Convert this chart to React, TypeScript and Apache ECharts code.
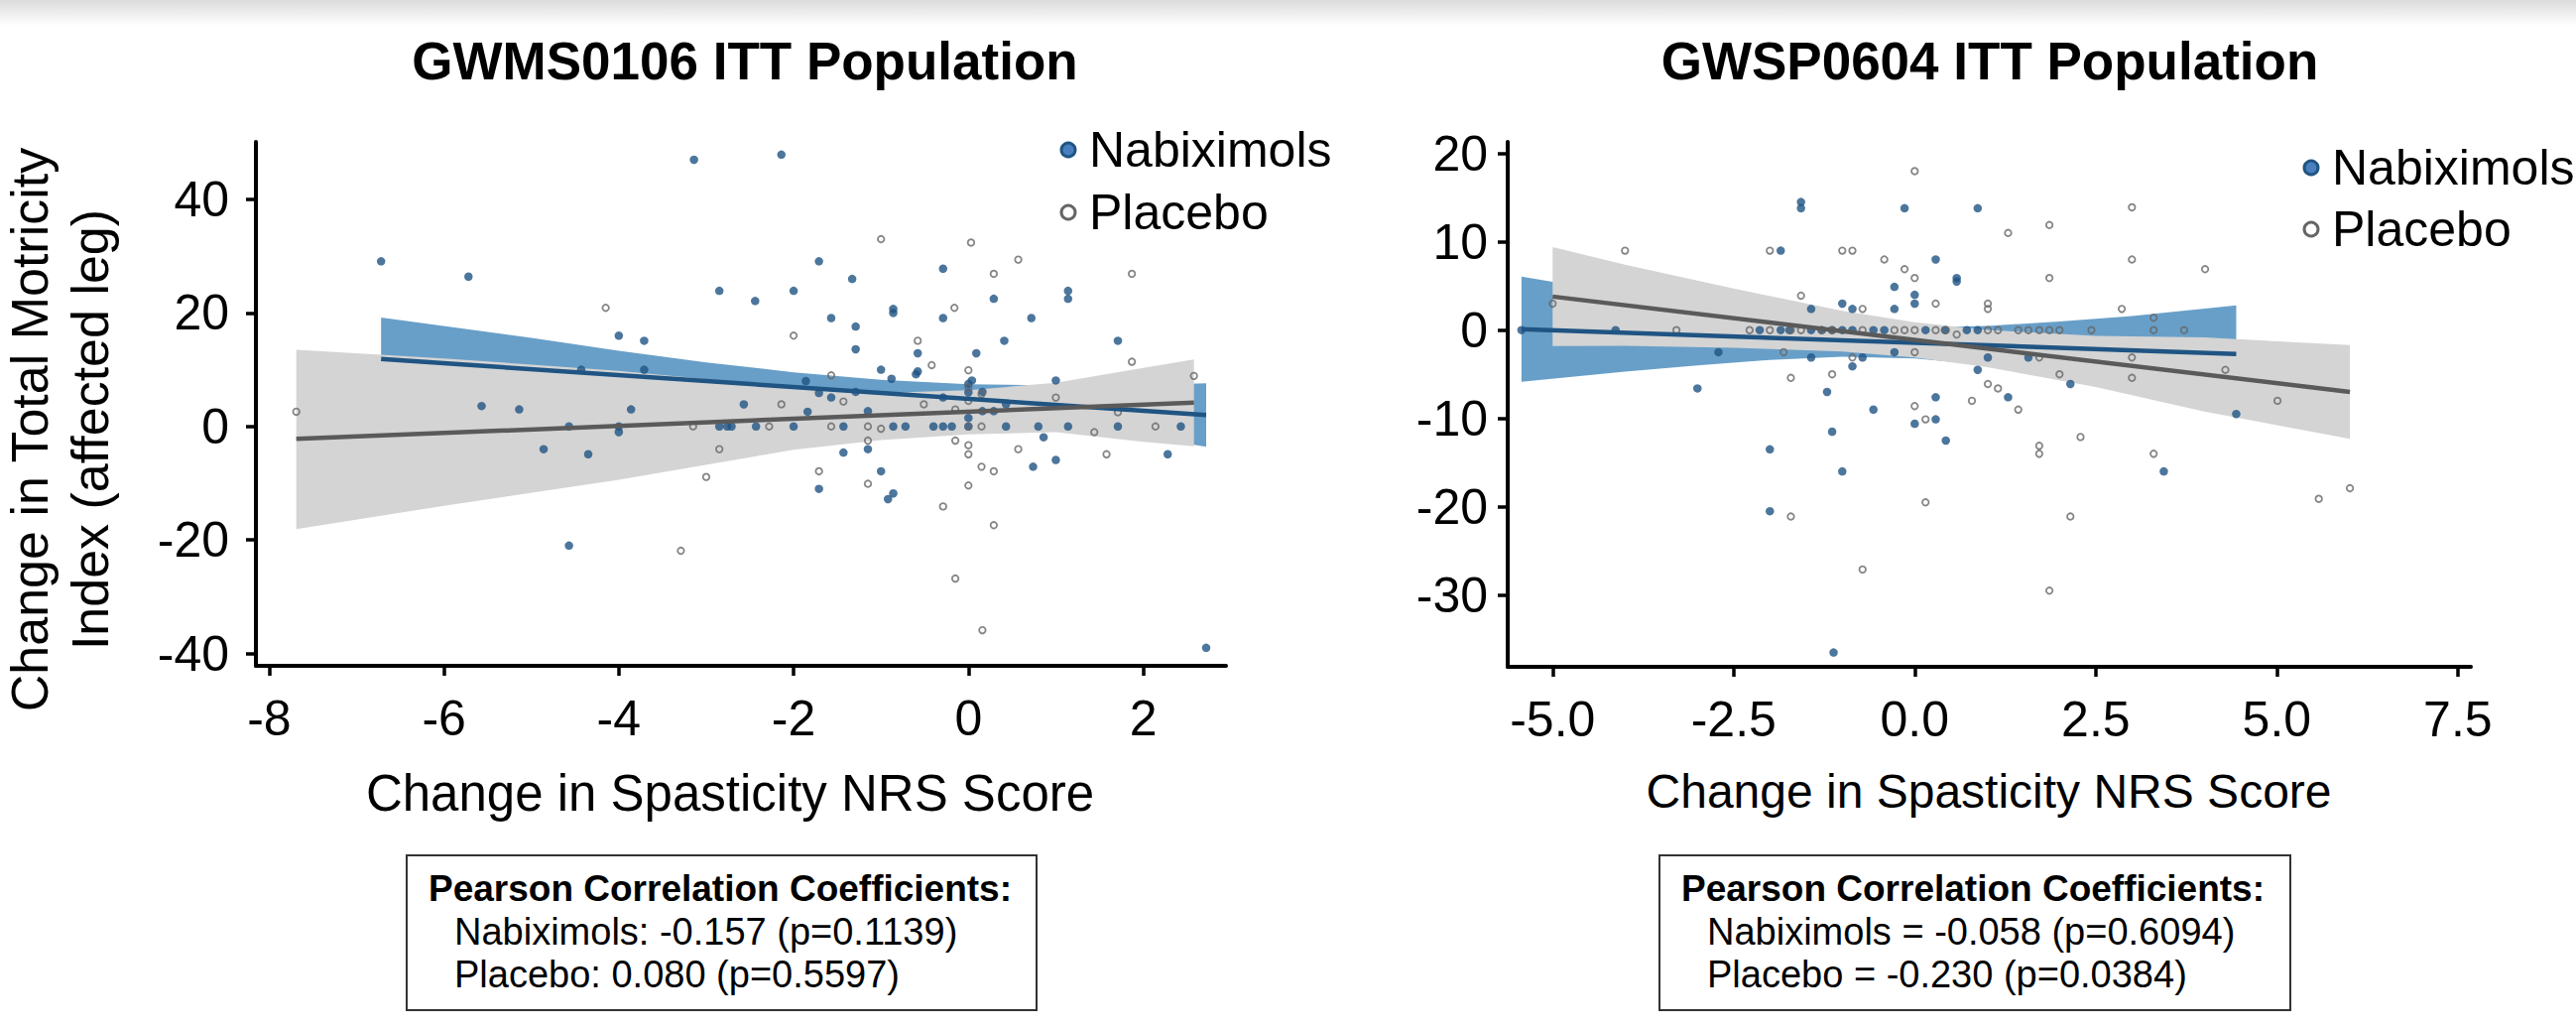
import React, { useEffect, useRef } from 'react';
import * as echarts from 'echarts';

const FONT = '"Liberation Sans", Arial, Helvetica, sans-serif';

// ---------- Left panel: GWMS0106 ----------
const leftNabiximols: number[][] = [
  [-3.14, 47.0], [-2.14, 47.9], [-6.72, 29.1], [-5.72, 26.4], [-1.71, 29.1], [-0.29, 27.8], [-1.33, 26.0],
  [-2.85, 23.9], [-2.0, 23.9], [-2.44, 22.1], [-0.86, 20.7], [-0.86, 20.0], [-1.57, 19.1], [-0.29, 19.1],
  [-1.29, 17.6], [-4.0, 16.0], [-3.71, 15.1], [-1.29, 13.6], [-0.58, 12.9], [0.09, 12.9], [-4.43, 10.0],
  [-3.71, 10.0], [-1.0, 10.0], [-0.58, 9.7], [-0.6, 9.2], [-0.88, 8.4], [-1.86, 8.0], [0.0, 7.5], [0.04, 8.1],
  [0.0, 6.0], [0.16, 6.1], [-1.71, 5.9], [-1.57, 5.1], [-1.29, 6.1], [-0.29, 5.1], [-5.57, 3.6], [-5.14, 3.0],
  [-3.86, 3.0], [-2.57, 3.9], [-1.84, 2.6], [-1.15, 2.7], [0.0, 1.5], [0.16, 2.7], [0.29, 2.7], [0.43, 3.9],
  [1.0, 8.1], [1.14, 23.9], [1.14, 22.5], [0.29, 22.5], [0.72, 19.1], [0.41, 15.1], [1.71, 15.1],
  [-4.57, 0], [-4.0, 0], [-2.85, 0], [-2.76, 0], [-2.71, 0], [-2.43, 0], [-2.0, 0], [-1.43, 0], [-0.86, 0],
  [-0.72, 0], [-0.4, 0], [-0.29, 0], [-0.19, 0], [0, 0], [0.43, 0], [0.8, 0], [1.14, 0], [1.71, 0], [2.43, 0],
  [-4.0, -1.0], [-4.86, -4.0], [-4.35, -4.9], [-1.43, -4.6], [-1.15, -4.0], [-1.0, -7.9], [-1.71, -11.0],
  [-0.86, -11.8], [-0.92, -12.8], [0.86, -1.9], [0.74, -7.1], [1.0, -5.9], [2.28, -4.9], [-4.57, -21.0],
  [2.72, -39.0],
];
const leftPlacebo: number[][] = [
  [-7.69, 2.6], [-4.15, 20.9], [-2.0, 16.0], [-1.0, 33.0], [0.03, 32.4], [0.57, 29.4], [0.29, 26.9],
  [1.87, 26.9], [-0.16, 20.9], [-0.58, 15.1], [-0.42, 10.8], [0.0, 9.9], [1.87, 11.4], [-1.57, 9.0],
  [2.58, 8.9], [-2.14, 3.9], [-1.43, 4.4], [-0.51, 3.9], [-0.15, 3.0], [0.15, 5.7], [1.0, 5.1], [1.71, 2.5],
  [0.0, 6.9], [0.0, 4.5],
  [-3.15, 0], [-2.28, 0], [-1.57, 0], [-1.15, 0], [-1.0, -0.4], [0, 0], [0.15, 0], [2.14, 0],
  [1.44, -1.0], [-1.15, -2.5], [-0.15, -2.5], [0, -3.3], [0, -4.9], [-2.85, -4.0], [0.57, -4.0], [1.58, -4.9],
  [-1.71, -7.9], [0.15, -7.1], [0.29, -7.9], [-3.0, -8.9], [-1.15, -10.1], [0, -10.4], [-0.29, -14.1],
  [0.29, -17.4], [-3.29, -21.9], [-0.15, -26.8], [0.16, -35.9],
];
const leftNabFit: number[][] = [[-6.72, 11.9], [2.72, 2.0]];
const leftPlaFit: number[][] = [[-7.69, -2.2], [2.58, 4.2]];
// [x, lower, upper]
const leftNabBand: number[][] = [
  [-6.72, 4.6, 19.2], [-5, 4.6, 15.6], [-4, 4.75, 13.35], [-3, 4.7, 11.3], [-2, 4.35, 9.55],
  [-1, 3.6, 8.2], [0, 2.25, 7.45], [1, 0.4, 7.2], [2, -1.75, 7.25], [2.72, -3.6, 7.6],
];
const leftPlaBand: number[][] = [
  [-7.69, -18.1, 13.5], [-6, -14.0, 12.0], [-4, -9.4, 9.8], [-2, -4.1, 6.9], [-1, -2.4, 5.9],
  [0, -1.4, 6.4], [1, -1.0, 7.7], [2, -2.7, 10.3], [2.58, -3.5, 11.8],
];
const leftXTicks = [-8, -6, -4, -2, 0, 2];
const leftYTicks = [-40, -20, 0, 20, 40];

// ---------- Right panel: GWSP0604 ----------
const rightNabiximols: number[][] = [
  [-5.43, 0], [-4.13, 0], [-2.71, -2.5], [-3.0, -6.6], [-1.85, 9.0], [-1.57, 14.5], [-1.57, 13.8],
  [-0.14, 13.8], [0.87, 13.8], [0.29, 8.0], [0.58, 5.9], [0.58, 5.5], [-0.28, 4.9], [0, 4.0], [0, 3.0],
  [-0.28, 2.4], [-1.43, 2.4], [-1.0, 3.0], [-0.86, 2.4],
  [-2.14, 0], [-1.85, 0], [-1.73, 0], [-1.43, 0], [-1.28, 0], [-1.14, 0], [-1.0, 0], [-0.86, 0], [-0.57, 0],
  [-0.42, 0], [0.15, 0], [0.42, 0], [0.72, 0], [0.87, 0],
  [-1.43, -3.1], [-0.72, -3.1], [-0.28, -2.5], [-0.86, -4.1], [1.01, -3.1], [1.57, -3.1], [0.87, -4.5],
  [-1.21, -7.0], [0.29, -7.6], [1.29, -7.6], [2.15, -6.1], [-0.57, -9.0], [0, -10.6], [0.29, -10.1],
  [-1.14, -11.5], [0.43, -12.5], [-2.0, -13.5], [-1.0, -16.0], [-2.0, -20.5], [-1.12, -36.5], [3.44, -16.0],
  [4.44, -9.5],
];
const rightPlacebo: number[][] = [
  [-5.0, 3.0], [-4.0, 9.0], [-2.0, 9.0], [-1.0, 9.0], [-0.86, 9.0], [-1.57, 3.9], [-0.72, 2.4], [-0.42, 8.0],
  [-0.14, 6.9], [0, 5.9], [0, 18.0], [0.29, 3.0], [1.01, 3.0], [1.01, 2.4], [1.29, 11.0], [1.86, 11.9],
  [1.86, 5.9], [3.0, 13.9], [3.0, 8.0], [4.01, 6.9], [2.86, 2.4], [3.3, 1.4],
  [-3.29, 0], [-2.28, 0], [-2.0, 0], [-1.71, 0], [-1.57, 0], [-1.29, 0], [-1.14, 0], [-0.72, 0], [-0.28, 0],
  [-0.14, 0], [0, 0], [0.29, 0], [0.43, 0], [1.01, 0], [1.15, 0], [1.43, 0], [1.57, 0], [1.72, 0], [1.86, 0],
  [2.0, 0], [2.44, 0], [3.3, 0], [3.72, 0],
  [-1.81, -2.5], [-0.86, -3.1], [0, -2.5], [0.58, -0.5], [1.72, -3.1], [-1.14, -5.0], [-1.71, -5.4],
  [2.0, -5.0], [1.01, -6.1], [1.15, -6.6], [0.79, -8.0], [1.43, -9.0], [0, -8.6], [0.15, -10.1],
  [2.29, -12.1], [1.72, -13.1], [1.72, -14.0], [0.15, -19.5], [-1.71, -21.1], [2.15, -21.1], [-0.72, -27.1],
  [1.86, -29.5], [3.0, -3.1], [3.0, -5.4], [4.29, -4.5], [5.01, -8.0], [3.3, -14.0], [5.58, -19.1],
  [6.01, -17.9],
];
const rightNabFit: number[][] = [[-5.43, 0.1], [4.44, -2.7]];
const rightPlaFit: number[][] = [[-5.0, 3.8], [6.01, -7.0]];
const rightNabBand: number[][] = [
  [-5.43, -5.85, 6.05], [-4, -4.71, 4.09], [-3, -3.99, 2.81], [-2, -3.38, 1.62], [-1, -3.01, 0.69],
  [0, -3.2, 0.3], [1, -3.93, 0.47], [2, -5.02, 0.98], [3, -6.21, 1.59], [4.44, -8.2, 2.8],
];
const rightPlaBand: number[][] = [
  [-5.0, -1.8, 9.4], [-4, -1.78, 7.42], [-2.5, -2.0, 4.7], [-1, -2.42, 2.18], [0, -3.1, 0.9],
  [1, -4.18, 0.02], [2.5, -6.45, -0.65], [4, -9.23, -0.83], [6.01, -12.3, -1.7],
];
const rightXTicks = [-5, -2.5, 0, 2.5, 5, 7.5];
const rightYTicks = [-30, -20, -10, 0, 10, 20];

const NAB_DOT = '#1f5483';
const NAB_BAND = '#689fc8';
const PLA_BAND = '#d4d4d4';
const PLA_LINE = '#5a5a5a';
const PLA_DOT = '#666666';

function bandSeries(band: number[][], color: string, idx: number) {
  return {
    type: 'custom',
    xAxisIndex: idx,
    yAxisIndex: idx,
    data: band,
    silent: true,
    renderItem: (params: any, api: any) => {
      if (params.dataIndex !== 0) return { type: 'group', children: [] };
      const up = band.map((b) => api.coord([b[0], b[2]]));
      const lo = band.slice().reverse().map((b) => api.coord([b[0], b[1]]));
      return { type: 'polygon', shape: { points: up.concat(lo) }, style: { fill: color } };
    },
  };
}

function scatterNab(data: number[][], idx: number) {
  return {
    type: 'scatter', xAxisIndex: idx, yAxisIndex: idx, data, symbol: 'circle', symbolSize: 8.5,
    itemStyle: { color: NAB_DOT }, silent: true,
  };
}
function scatterPla(data: number[][], idx: number) {
  return {
    type: 'scatter', xAxisIndex: idx, yAxisIndex: idx, data, symbol: 'circle', symbolSize: 6.5,
    itemStyle: { color: 'rgba(0,0,0,0)', borderColor: PLA_DOT, borderWidth: 1.8 }, silent: true,
  };
}
function fitLine(data: number[][], color: string, idx: number) {
  return {
    type: 'line', xAxisIndex: idx, yAxisIndex: idx, data, symbol: 'none', silent: true,
    lineStyle: { color, width: 4.5 },
  };
}

function axis(extra: any, ticks: number[], margin: number, fmt?: (v: number) => string) {
  return {
    type: 'value',
    ...extra,
    axisLine: { show: true, onZero: false, lineStyle: { color: '#000', width: 4 } },
    axisTick: { show: true, length: 10, customValues: ticks, lineStyle: { color: '#000', width: 3.5 } },
    splitLine: { show: false },
    axisLabel: {
      customValues: ticks, color: '#000', fontSize: 50, fontFamily: FONT, margin,
      formatter: fmt || ((v: number) => String(v)),
    },
  };
}

function txt(text: string, x: number, y: number, font: string, align = 'left', extra: any = {}) {
  return {
    type: 'text', x, y, ...extra, silent: true,
    style: { text, font, fill: '#000', textAlign: align, textVerticalAlign: 'middle' },
  };
}

function legend(x: number, y1: number, y2: number) {
  return [
    { type: 'circle', shape: { cx: x, cy: y1, r: 7 }, style: { fill: '#4a7fbf', stroke: NAB_DOT, lineWidth: 3 } },
    { type: 'circle', shape: { cx: x, cy: y2, r: 7 }, style: { fill: '#fff', stroke: PLA_DOT, lineWidth: 3 } },
    txt('Nabiximols', x + 21, y1, `50px ${FONT}`),
    txt('Placebo', x + 21, y2, `50px ${FONT}`),
  ];
}

function box(x: number, w: number, head: string, l1: string, l2: string) {
  return [
    { type: 'rect', shape: { x, y: 862, width: w, height: 156 }, style: { fill: '#fff', stroke: '#333', lineWidth: 2 } },
    txt(head, x + 22, 895, `bold 37px ${FONT}`),
    txt(l1, x + 48, 939, `38px ${FONT}`),
    txt(l2, x + 48, 982, `38px ${FONT}`),
  ];
}

export default function App() {
  const ref = useRef<HTMLDivElement>(null);
  useEffect(() => {
    const chart = echarts.init(ref.current as HTMLDivElement, null, { renderer: 'svg' });
    const option: any = {
      animation: false,
      backgroundColor: '#fff',
      textStyle: { fontFamily: FONT },
      grid: [
        { left: 258, top: 143, width: 978, height: 528 },
        { left: 1520, top: 143, width: 971, height: 529 },
      ],
      xAxis: [
        axis({ gridIndex: 0, min: -8.152, max: 2.947 }, leftXTicks, 28),
        axis({ gridIndex: 1, min: -5.62, max: 7.68 }, rightXTicks, 28, (v: number) => v.toFixed(1)),
      ],
      yAxis: [
        axis({ gridIndex: 0, min: -42.18, max: 50.14 }, leftYTicks, 27),
        axis({ gridIndex: 1, min: -38.12, max: 21.31 }, rightYTicks, 20),
      ],
      series: [
        bandSeries(leftNabBand, NAB_BAND, 0),
        bandSeries(leftPlaBand, PLA_BAND, 0),
        scatterNab(leftNabiximols, 0),
        scatterPla(leftPlacebo, 0),
        fitLine(leftNabFit, NAB_DOT, 0),
        fitLine(leftPlaFit, PLA_LINE, 0),
        bandSeries(rightNabBand, NAB_BAND, 1),
        bandSeries(rightPlaBand, PLA_BAND, 1),
        scatterNab(rightNabiximols, 1),
        scatterPla(rightPlacebo, 1),
        fitLine(rightNabFit, NAB_DOT, 1),
        fitLine(rightPlaFit, PLA_LINE, 1),
      ],
      graphic: [
        {
          type: 'rect', silent: true, z: -1,
          shape: { x: 0, y: 0, width: 2597, height: 26 },
          style: {
            fill: new echarts.graphic.LinearGradient(0, 0, 0, 1, [
              { offset: 0, color: '#dcdcdc' }, { offset: 1, color: '#ffffff' },
            ]),
          },
        },
        txt('GWMS0106 ITT Population', 751, 61, `bold 53px ${FONT}`, 'center'),
        txt('GWSP0604 ITT Population', 2006, 61, `bold 53px ${FONT}`, 'center'),
        txt('Change in Total Motricity', 30, 433, `52px ${FONT}`, 'center', { rotation: Math.PI / 2 }),
        txt('Index (affected leg)', 91, 433, `52px ${FONT}`, 'center', { rotation: Math.PI / 2 }),
        txt('Change in Spasticity NRS Score', 736, 799, `51px ${FONT}`, 'center'),
        txt('Change in Spasticity NRS Score', 2005, 797, `48px ${FONT}`, 'center'),
        ...legend(1077, 151, 214),
        ...legend(2330, 169, 231),
        ...box(410, 635, 'Pearson Correlation Coefficients:', 'Nabiximols: -0.157 (p=0.1139)', 'Placebo: 0.080 (p=0.5597)'),
        ...box(1673, 636, 'Pearson Correlation Coefficients:', 'Nabiximols = -0.058 (p=0.6094)', 'Placebo = -0.230 (p=0.0384)'),
      ],
    };
    chart.setOption(option);
    return () => chart.dispose();
  }, []);
  return (
    <div
      ref={ref}
      style={{ position: 'absolute', left: 0, top: 0, width: 2597, height: 1037, background: '#fff' }}
    />
  );
}
